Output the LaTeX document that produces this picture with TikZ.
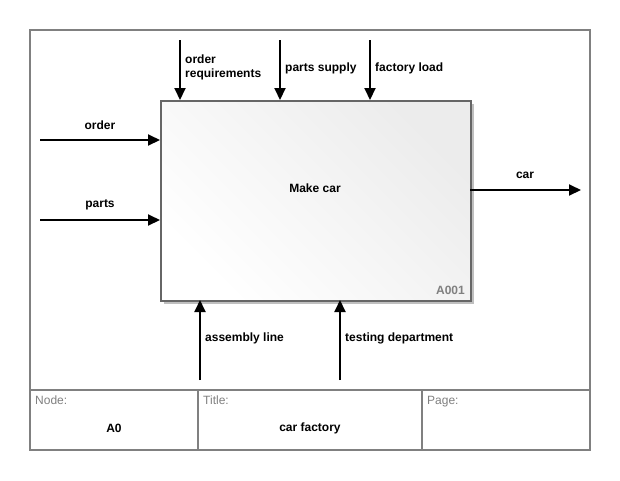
\documentclass[tikz,border=0pt]{standalone}
\usepackage{fontspec}
\setmainfont{Liberation Sans}
\usetikzlibrary{arrows.meta,shadows}
\definecolor{framegray}{HTML}{808080}
\definecolor{boxgray}{HTML}{666666}
\definecolor{fillgray}{HTML}{ECECEC}
\begin{document}
\begin{tikzpicture}[x=1pt,y=-1pt,
  lbl/.style={font=\fontsize{12}{14}\selectfont\bfseries, inner sep=0pt},
  glbl/.style={font=\fontsize{12}{14}\selectfont, text=framegray, inner sep=0pt, anchor=base west},
  flow/.style={line width=2pt, -{Triangle[length=12pt,width=11pt]}},
  framestyle/.style={draw=framegray, line width=2pt}]
\useasboundingbox[fill=white] (0,0) rectangle (620,480);
% frame
\draw[framestyle] (30,30) rectangle (590,450);
\draw[framestyle] (30,390) -- (590,390);
\draw[framestyle] (198,390) -- (198,450);
\draw[framestyle] (422,390) -- (422,450);
% main box
\node[draw=boxgray, line width=1.5pt, minimum width=310pt, minimum height=200pt,
  left color=white, right color=fillgray, shading angle=135,
  drop shadow={shadow xshift=3pt, shadow yshift=-3pt, fill=black, opacity=0.25},
  inner sep=0pt, anchor=north west] (box) at (160,100) {};
\node[lbl] (boxlbl) at (315,188) {Make car};
\node[lbl, text=framegray, anchor=south east] (code) at (465,295) {A001};
% coordinates
\coordinate (o1) at (40,140);  \coordinate (o2) at (160,140);
\coordinate (p1) at (40,220);  \coordinate (p2) at (160,220);
\coordinate (c1) at (470,190); \coordinate (c2) at (581,190);
\coordinate (r1) at (180,40);  \coordinate (r2) at (180,100);
\coordinate (s1) at (280,40);  \coordinate (s2) at (280,100);
\coordinate (f1) at (370,40);  \coordinate (f2) at (370,100);
\coordinate (a1) at (200,380); \coordinate (a2) at (200,300);
\coordinate (t1) at (340,380); \coordinate (t2) at (340,300);
\draw[flow] (o1) -- (o2);
\draw[flow] (p1) -- (p2);
\draw[flow] (c1) -- (c2);
\draw[flow] (r1) -- (r2);
\draw[flow] (s1) -- (s2);
\draw[flow] (f1) -- (f2);
\draw[flow] (a1) -- (a2);
\draw[flow] (t1) -- (t2);
% labels
\node[lbl] (lorder) at (100,125) {order};
\node[lbl] (lparts) at (100,205) {parts};
\node[lbl] (lcar) at (525,175) {car};
\node[lbl, anchor=west, align=left] (lreq) at (185,67.5) {order\\requirements};
\node[lbl, anchor=west] (lsup) at (285,68) {parts supply};
\node[lbl, anchor=west] (lload) at (375,68) {factory load};
\node[lbl, anchor=west] (lasm) at (205,338) {assembly line};
\node[lbl, anchor=west] (ltest) at (345,338) {testing department};
% footer
\node[glbl] (fnode) at (35,404.5) {Node:};
\node[glbl] (ftitle) at (203,404.5) {Title:};
\node[glbl] (fpage) at (427,404.5) {Page:};
\node[lbl] (fa0) at (114,428) {A0};
\node[lbl] (fcar) at (310,428) {car factory};
\end{tikzpicture}
\end{document}
